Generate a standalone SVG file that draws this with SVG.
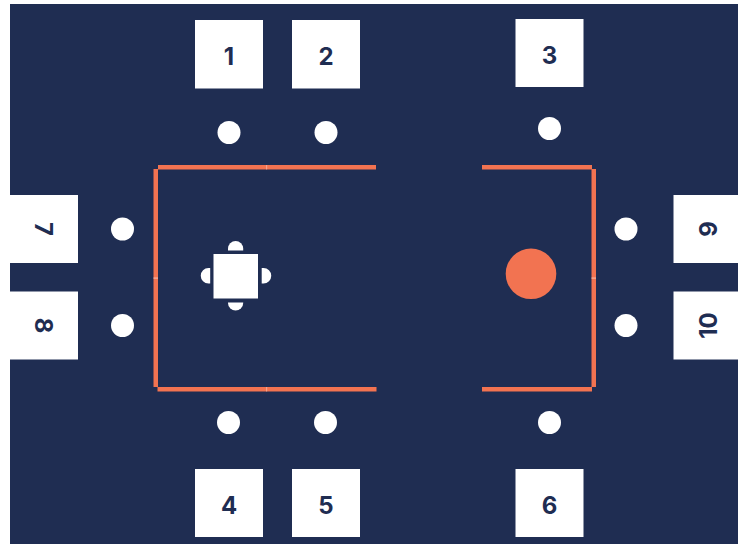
<svg xmlns="http://www.w3.org/2000/svg" width="738" height="544" viewBox="0 0 738 544">
<style>
.box{fill:#fff}
.dot{fill:#fff}
.wall{fill:#f27351}
.seam{fill:#f7b5a3}
.lb{font-family:"Inter","Liberation Sans",sans-serif;font-size:24px;font-weight:700;fill:#1f2d52;text-anchor:middle;dominant-baseline:central}
</style>
<rect width="738" height="544" fill="#fff"/>
<rect x="10" y="4" width="728" height="540" fill="#1f2d52"/>
<g id="walls">
<rect class="wall" x="158" y="165" width="218" height="4.500"/>
<rect class="wall" x="153.500" y="169" width="4.500" height="218"/>
<rect class="wall" x="157.500" y="387" width="219" height="4.500"/>
<rect class="wall" x="482" y="165" width="110" height="4.500"/>
<rect class="wall" x="591.500" y="169" width="4.500" height="218"/>
<rect class="wall" x="482" y="387" width="110" height="4.500"/>
<rect class="seam" x="266.300" y="165" width="0.800" height="4.500"/>
<rect class="seam" x="266.300" y="387" width="0.800" height="4.500"/>
<rect class="seam" x="153.500" y="277.500" width="4.500" height="1.200"/>
<rect class="seam" x="591.500" y="277.500" width="4.500" height="1.200"/>
</g>
<g id="seat-1"><rect class="box" x="195" y="20" width="68" height="68.500"/><text class="lb" x="229" y="56">1</text><circle class="dot" cx="229" cy="132.500" r="11.500"/></g>
<g id="seat-2"><rect class="box" x="292" y="20" width="68" height="68.500"/><text class="lb" x="326" y="56">2</text><circle class="dot" cx="326" cy="132.500" r="11.500"/></g>
<g id="seat-3"><rect class="box" x="515.500" y="19" width="68" height="68"/><text class="lb" x="549.500" y="55">3</text><circle class="dot" cx="549.500" cy="128.500" r="11.500"/></g>
<g id="seat-4"><rect class="box" x="195" y="469" width="68" height="68"/><text class="lb" x="229" y="505.500">4</text><circle class="dot" cx="228.500" cy="422.500" r="11.500"/></g>
<g id="seat-5"><rect class="box" x="292" y="469" width="68" height="68"/><text class="lb" x="326" y="505.500">5</text><circle class="dot" cx="325.500" cy="422.500" r="11.500"/></g>
<g id="seat-6"><rect class="box" x="515.500" y="469" width="68" height="68"/><text class="lb" x="549.500" y="505.500">6</text><circle class="dot" cx="549.500" cy="422.500" r="11.500"/></g>
<g id="seat-7"><rect class="box" x="10" y="195" width="68" height="68"/><text class="lb" transform="translate(43 229) rotate(90)">7</text><circle class="dot" cx="122.500" cy="229" r="11.500"/></g>
<g id="seat-8"><rect class="box" x="10" y="291.500" width="68" height="68"/><text class="lb" transform="translate(43 325.500) rotate(90)">8</text><circle class="dot" cx="122.500" cy="325.500" r="11.500"/></g>
<g id="seat-9"><rect class="box" x="673.500" y="195" width="64.500" height="68"/><text class="lb" transform="translate(708.500 229) rotate(-90)">9</text><circle class="dot" cx="626" cy="229" r="11.500"/></g>
<g id="seat-10"><rect class="box" x="673.500" y="291.500" width="64.500" height="68"/><text class="lb" transform="translate(708.500 325.500) rotate(-90)">10</text><circle class="dot" cx="626" cy="325.500" r="11.500"/></g>
<g id="table">
<rect class="box" x="213.500" y="254" width="44.500" height="44.500"/>
<path class="dot" d="M228 250.500V248.500A7.600 7.600 0 0 1 243.200 248.500V250.500Z"/>
<path class="dot" d="M228 302.500V303A7.600 7.600 0 0 0 243.200 303V302.500Z"/>
<path class="dot" d="M210.200 268V283.500H208.500A7.750 7.750 0 0 1 208.500 268Z"/>
<path class="dot" d="M261.700 268V283.500H263.500A7.750 7.750 0 0 0 263.500 268Z"/>
</g>
<g id="marker"><circle class="wall" cx="531" cy="273.800" r="25.300"/></g>
<g id="connectors"></g>
</svg>
